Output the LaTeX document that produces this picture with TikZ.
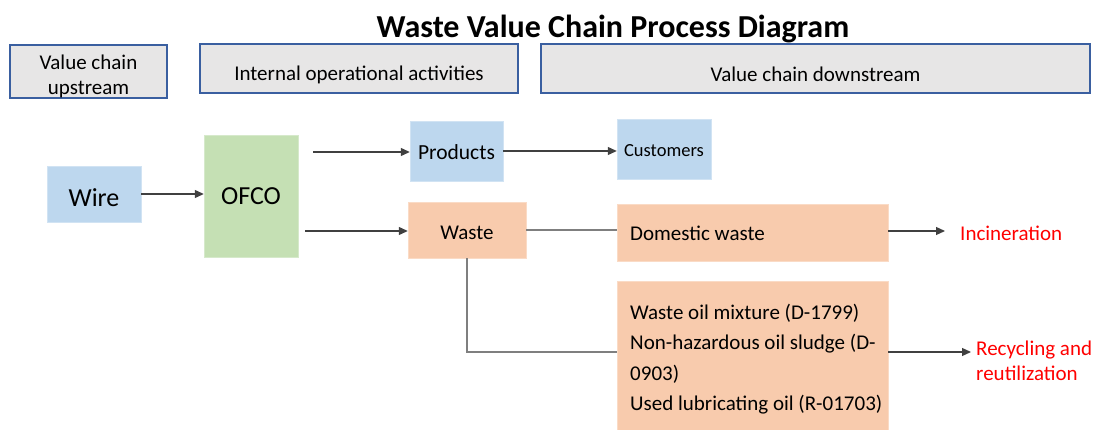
\documentclass[tikz,border=0pt]{standalone}
\usepackage{fontspec}
\setmainfont{Carlito}
\usetikzlibrary{arrows.meta,calc}
\definecolor{hdrfill}{HTML}{E7E6E6}
\definecolor{hdrdraw}{HTML}{3A5FA0}
\definecolor{bluefill}{HTML}{BDD7EE}
\definecolor{greenfill}{HTML}{C5E0B4}
\definecolor{orangefill}{HTML}{F8CBAD}
\definecolor{linegrey}{HTML}{404040}
\definecolor{lightline}{HTML}{7F7F7F}
\newcommand{\lowerby}[2]{\raisebox{-#1}[\height][\depth]{#2}}
\tikzset{
  hdr/.style={draw=hdrdraw, line width=1.3pt, fill=hdrfill, inner sep=0pt, align=center, font=\fontsize{21}{26}\selectfont},
  boxb/.style={fill=bluefill, draw=bluefill!70!white, inner sep=0pt, align=center},
  boxg/.style={fill=greenfill, draw=greenfill!70!white, inner sep=0pt, align=center},
  boxo/.style={fill=orangefill, draw=orangefill!70!white, inner sep=0pt, align=center},
  arr/.style={draw=linegrey, line width=1.2pt, -{Triangle[length=9pt,width=8pt]}},
  ln/.style={draw=lightline, line width=1.2pt},
  redtxt/.style={text=red, inner sep=0pt, font=\fontsize{21}{25}\selectfont, align=left},
  intxt/.style={inner sep=0pt, align=left, font=\fontsize{21}{30.5}\selectfont}
}
\begin{document}
\begin{tikzpicture}[x=1pt,y=-1pt]
\useasboundingbox (0,0) rectangle (1095,430);
% title
\node[font=\bfseries\fontsize{32}{36}\selectfont] (title) at (613,28.5) {Waste Value Chain Process Diagram};
% headers
\node[hdr, minimum width=157, minimum height=53] (h1) at (88.5,71.5) {\lowerby{4.5pt}{\parbox{150pt}{\centering Value chain\\[-1pt]upstream}}};
\node[hdr, minimum width=318, minimum height=49] (h2) at (359,68.5) {\lowerby{6pt}{Internal operational activities}};
\node[hdr, minimum width=549, minimum height=49] (h3) at (815.5,68.5) {\lowerby{6pt}{Value chain downstream}};
% main boxes
\node[boxb, minimum width=94, minimum height=56, font=\fontsize{26}{30}\selectfont] (wire) at (94,194) {\lowerby{4pt}{Wire}};
\node[boxg, minimum width=94, minimum height=122, font=\fontsize{26}{30}\selectfont] (ofco) at (251,196) {OFCO};
\node[boxb, minimum width=93, minimum height=60, font=\fontsize{21.5}{25}\selectfont] (prod) at (456.5,151) {\lowerby{1pt}{Products}};
\node[boxb, minimum width=94, minimum height=60, font=\fontsize{18.5}{22}\selectfont] (cust) at (664,149) {\lowerby{2pt}{Customers}};
\node[boxo, minimum width=118, minimum height=56, font=\fontsize{21}{24}\selectfont] (waste) at (467,230) {\lowerby{3pt}{Waste}};
\node[boxo, minimum width=271, minimum height=57] (dom) at (752.5,232.5) {};
\node[intxt, anchor=west] (domtxt) at (630,233.5) {Domestic waste};
\node[boxo, minimum width=271, minimum height=149] (big) at (752.5,355.5) {};
\node[intxt, anchor=west] (bigtxt) at (630,359) {Waste oil mixture (D-1799)\\Non-hazardous oil sludge (D-\\0903)\\Used lubricating oil (R-01703)};
% outcomes
\node[redtxt, anchor=west] (inc) at (960,233) {Incineration};
\node[redtxt, anchor=west] (rec) at (976,361) {Recycling and\\reutilization};
% connectors
\coordinate (o1) at ($(ofco.east)+(15,-44)$);
\coordinate (o2) at ($(ofco.east)+(7,35)$);
\coordinate (d1) at ($(dom.east)+(0,-1.5)$);
\coordinate (b1) at ($(big.east)+(0,-3.5)$);
\draw[arr] (wire.east) -- (wire.east -| ofco.west);
\draw[arr] (o1) -- (o1 -| prod.west);
\draw[arr] (o2) -- (o2 -| waste.west);
\draw[arr] (prod.east) -- (prod.east -| cust.west);
\draw[ln] (waste.east) -- (waste.east -| dom.west);
\draw[arr] (d1) -- ($(d1 -| inc.west)+(-15,0)$);
\draw[ln] (waste.south) |- ($(big.west)+(0,-3.5)$);
\draw[arr] (b1) -- ($(b1 -| rec.west)+(-5,0)$);
\end{tikzpicture}
\end{document}
